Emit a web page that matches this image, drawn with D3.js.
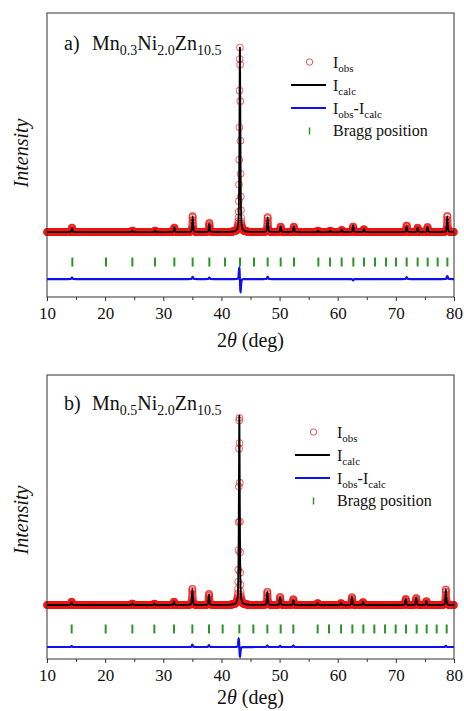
<!DOCTYPE html>
<html><head><meta charset="utf-8">
<script src="https://cdn.jsdelivr.net/npm/d3@7"></script>
<style>body{margin:0;background:#fff} svg{display:block} svg text{font-family:"Liberation Serif","DejaVu Serif",serif !important;fill:#111}</style>
</head><body>
<svg id="c" width="464" height="711" font-family="Liberation Serif, serif"></svg>
<script>
// ---------- data ----------
const xTicks = [10, 20, 30, 40, 50, 60, 70, 80];
const xMinorTicks = [15, 25, 35, 45, 55, 65, 75];

// panel a) Mn0.3Ni2.0Zn10.5
const braggA = [14.36, 20.15, 24.68, 28.58, 31.90, 35.05, 37.92, 40.62, 43.20, 45.60, 47.95, 50.19, 52.48,
  56.67, 58.68, 60.68, 62.69, 64.52, 66.41, 68.31, 70.03, 71.86, 73.75, 75.47, 77.19, 78.86];
const peakPosA = [14.3, 24.7, 28.6, 31.9, 35.05, 37.92, 43.18, 47.95, 50.19, 52.45, 56.6, 58.7, 60.7, 62.65, 64.5, 71.86, 73.75, 75.45, 78.85];
const peakHtA  = [2.0, 0.8, 0.8, 2.5, 8.0, 4.5, 100, 7.5, 3.0, 3.0, 0.8, 0.8, 1.2, 3.5, 1.6, 3.0, 2.4, 2.8, 8.0];
const residPosA = [14.3, 35.05, 37.92, 43.08, 43.28, 47.95, 62.65, 71.86, 78.85];
const residAmpA = [0.8, 1.2, 0.8, 6.8, -7.6, 1.2, -0.7, 1.0, 1.6];

// panel b) Mn0.5Ni2.0Zn10.5
const braggB = [14.24, 20.09, 24.68, 28.46, 31.84, 35.00, 37.86, 40.21, 43.08, 45.49, 47.90, 50.19, 52.37,
  56.55, 58.50, 60.57, 62.52, 64.41, 66.30, 68.14, 69.97, 71.75, 73.58, 75.30, 77.02, 78.74];
const peakPosB = [14.24, 24.68, 28.46, 31.84, 35.0, 37.86, 43.08, 47.9, 50.1, 52.37, 56.55, 60.57, 62.45, 64.35, 71.7, 73.5, 75.25, 78.6];
const peakHtB  = [1.5, 0.8, 0.7, 1.8, 7.9, 5.3, 100, 6.6, 4.0, 2.6, 1.0, 1.0, 4.2, 1.6, 3.2, 3.7, 2.1, 7.9];
const residPosB = [14.24, 35.0, 37.86, 42.98, 43.18, 47.9, 50.1, 52.37, 78.6];
const residAmpB = [0.5, 1.2, 1.0, 5.0, -5.6, 0.8, 0.6, 0.8, 0.6];

const legendLabels = ["obs", "calc", "diff", "Bragg position"];

// ---------- layout ----------
const FONT = '"Liberation Serif","DejaVu Serif",serif';
const svg = d3.select("#c");
const X0 = 47, X1 = 454;
const panels = [
  { label: "a)", sub: ["0.3", "2.0", "10.5"], top: 13, bottom: 297, yDomain: [-35.1, 118.4], diffOff: -25.4, braggY: -16.2,
    bragg: braggA, pos: peakPosA, ht: peakHtA, rpos: residPosA, ramp: residAmpA,
    titleY: 50, legX: 291, legY: 62, ylabY: 153, xlabDy: 50 },
  { label: "b)", sub: ["0.5", "2.0", "10.5"], top: 375, bottom: 659, yDomain: [-28.4, 121.0], diffOff: -22.1, braggY: -12.6,
    bragg: braggB, pos: peakPosB, ht: peakHtB, rpos: residPosB, ramp: residAmpB,
    titleY: 410, legX: 295, legY: 432, ylabY: 520, xlabDy: 45 }
];

const FWHM = 0.19, ETA = 0.45;
function pv(dx, w) {
  const g = Math.exp(-4 * Math.LN2 * dx * dx / (w * w));
  const l = 1 / (1 + 4 * dx * dx / (w * w));
  return (1 - ETA) * g + ETA * l;
}

const obsStep = 0.03, calcStep = 0.01;
const obsGrid = d3.range(0, Math.round(70 / obsStep) + 1).map(i => 10 + i * obsStep);
const calcGrid = d3.range(0, Math.round(70 / calcStep) + 1).map(i => 10 + i * calcStep);

const x = d3.scaleLinear().domain([10, 80]).range([X0, X1]);

panels.forEach(p => {
  const g = svg.append("g");
  const y = d3.scaleLinear().domain(p.yDomain).range([p.bottom, p.top]);

  const model = t => {
    let v = 0;
    p.pos.forEach((c, i) => { v += p.ht[i] * pv(t - c, FWHM); });
    let r = 0;
    p.rpos.forEach((c, i) => { r += p.ramp[i] * pv(t - c, 0.2); });
    return { t, calc: v, diff: r };
  };
  const obs = obsGrid.map(model);
  const prof = calcGrid.map(model);

  // observed circles
  g.append("g").selectAll("circle").data(obs).join("circle")
    .attr("cx", d => x(d.t)).attr("cy", d => y(d.calc + d.diff * 0.6))
    .attr("r", 3.3).attr("fill", "none")
    .attr("stroke", "#f01818").attr("stroke-opacity", 0.6).attr("stroke-width", 1.1);

  // calc line
  g.append("path").datum(prof)
    .attr("d", d3.line().x(d => x(d.t)).y(d => y(d.calc)))
    .attr("fill", "none").attr("stroke", "#000").attr("stroke-width", 1.8);

  // Bragg ticks
  g.append("g").selectAll("line").data(p.bragg).join("line")
    .attr("x1", d => x(d)).attr("x2", d => x(d))
    .attr("y1", y(p.braggY) - 4.5).attr("y2", y(p.braggY) + 4.5)
    .attr("stroke", "#2a962a").attr("stroke-width", 2);

  // difference
  g.append("path").datum(prof)
    .attr("d", d3.line().x(d => x(d.t)).y(d => y(p.diffOff + d.diff)))
    .attr("fill", "none").attr("stroke", "#1010ee").attr("stroke-width", 2.2);

  // frame
  g.append("rect").attr("x", X0).attr("y", p.top).attr("width", X1 - X0).attr("height", p.bottom - p.top)
    .attr("fill", "none").attr("stroke", "#333").attr("stroke-width", 1);

  // x axis
  const ax = g.append("g").attr("transform", `translate(0,${p.bottom})`)
    .call(d3.axisBottom(x).tickValues(xTicks).tickSize(4).tickPadding(6).tickFormat(d3.format("d")));
  ax.attr("font-family", FONT);
  ax.select(".domain").remove();
  ax.selectAll(".tick line").attr("stroke", "#333");
  ax.selectAll(".tick text").style("font-family", FONT).style("font-size", "17px").attr("fill", "#111");
  const axm = g.append("g").attr("transform", `translate(0,${p.bottom})`)
    .call(d3.axisBottom(x).tickValues(xMinorTicks).tickSize(3).tickFormat(""));
  axm.select(".domain").remove();
  axm.selectAll(".tick line").attr("stroke", "#333");

  // x label
  const xl = g.append("text").attr("x", (X0 + X1) / 2).attr("y", p.bottom + p.xlabDy)
    .attr("text-anchor", "middle").style("font-family", FONT).style("font-size", "20px");
  xl.append("tspan").text("2");
  xl.append("tspan").style("font-style", "italic").text("θ");
  xl.append("tspan").text(" (deg)");

  // y label
  g.append("text").attr("transform", `translate(28,${p.ylabY}) rotate(-90)`)
    .attr("text-anchor", "middle").style("font-family", FONT).style("font-size", "20px").style("font-style", "italic").text("Intensity");

  // title
  const tt = g.append("text").attr("x", 64).attr("y", p.titleY).style("font-family", FONT).style("font-size", "20px");
  tt.append("tspan").text(p.label);
  tt.append("tspan").attr("x", 92).text("Mn");
  tt.append("tspan").attr("dy", 5).style("font-size", "14px").text(p.sub[0]);
  tt.append("tspan").attr("dy", -5).text("Ni");
  tt.append("tspan").attr("dy", 5).style("font-size", "14px").text(p.sub[1]);
  tt.append("tspan").attr("dy", -5).text("Zn");
  tt.append("tspan").attr("dy", 5).style("font-size", "14px").text(p.sub[2]);

  // legend
  const lg = g.append("g");
  const rowH = 23;
  const tx = p.legX + 42;
  const lx0 = p.legX, lx1 = p.legX + 35, mx = p.legX + 18.5;
  lg.append("circle").attr("cx", mx).attr("cy", p.legY).attr("r", 3.2).attr("fill", "none")
    .attr("stroke", "#d05a5a").attr("stroke-width", 1);
  lg.append("line").attr("x1", lx0).attr("x2", lx1).attr("y1", p.legY + rowH).attr("y2", p.legY + rowH)
    .attr("stroke", "#000").attr("stroke-width", 2);
  lg.append("line").attr("x1", lx0).attr("x2", lx1).attr("y1", p.legY + 2 * rowH).attr("y2", p.legY + 2 * rowH)
    .attr("stroke", "#1010ee").attr("stroke-width", 2);
  lg.append("line").attr("x1", mx).attr("x2", mx).attr("y1", p.legY + 3 * rowH - 3.5).attr("y2", p.legY + 3 * rowH + 3.5)
    .attr("stroke", "#2a962a").attr("stroke-width", 1.5);

  function subText(yy, parts) {
    const t = lg.append("text").attr("x", tx).attr("y", yy + 6).style("font-family", FONT).style("font-size", "16px");
    parts.forEach(([s, isSub], k) => {
      t.append("tspan").attr("dy", isSub ? 4 : (k ? -4 : 0))
        .style("font-size", isSub ? "11px" : "16px").text(s);
    });
  }
  subText(p.legY, [["I", false], [legendLabels[0], true]]);
  subText(p.legY + rowH, [["I", false], [legendLabels[1], true]]);
  subText(p.legY + 2 * rowH, [["I", false], ["obs", true], ["-I", false], ["calc", true]]);
  lg.append("text").attr("x", tx).attr("y", p.legY + 3 * rowH + 5).style("font-family", FONT).style("font-size", "16px").text(legendLabels[3]);
});
</script>
</body></html>
